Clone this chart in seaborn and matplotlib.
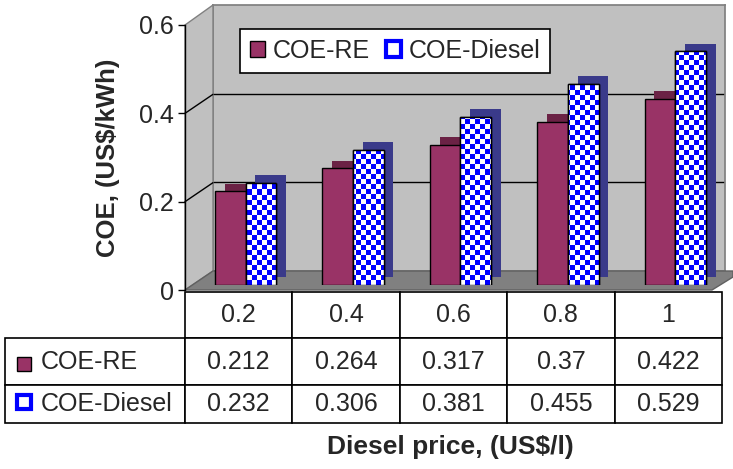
import numpy as np
import pandas as pd
import matplotlib
matplotlib.use("Agg")
import matplotlib.pyplot as plt
import matplotlib.patheffects as pe
import seaborn as sns
from matplotlib.colors import ListedColormap
from matplotlib.patches import Patch, Rectangle, Polygon
from matplotlib.lines import Line2D
from matplotlib.table import Table

prices = ["0.2", "0.4", "0.6", "0.8", "1"]
series = ["COE-RE", "COE-Diesel"]
coe_re = [0.212, 0.264, 0.317, 0.37, 0.422]
coe_diesel = [0.232, 0.306, 0.381, 0.455, 0.529]
yticks = [0, 0.2, 0.4, 0.6]

re_col = "#993366"
blue = "#0000ff"

W, H = 733, 469


def fx(x):
    return x / W


def fy(y):
    return 1 - y / H


def rect(x0, y0, x1, y1):
    # pixel box (top-left origin) -> figure fraction [l, b, w, h]
    return [fx(x0), fy(y1), fx(x1) - fx(x0), fy(y0) - fy(y1)]


sns.set_theme(style="white")
plt.rcParams["font.family"] = ["Liberation Sans", "DejaVu Sans"]

fig = plt.figure(figsize=(W / 100, H / 100), dpi=100)

# ---- fake 3d box: back wall, side wall, floor
wall = fig.add_axes(rect(213, 5, 725, 271))
wall.set_zorder(-2)
wall.set_facecolor("#c0c0c0")
wall.set_ylim(0, 0.6)
wall.set_xticks([])
wall.set_yticks(yticks[1:-1])
wall.tick_params(left=False, labelleft=False)
wall.grid(axis="y", color="black", lw=1)
for s in wall.spines.values():
    s.set_color("#808080")

side = Polygon([(fx(185), fy(290)), (fx(185), fy(25)), (fx(213), fy(5)), (fx(213), fy(271))],
               closed=True, transform=fig.transFigure, fc="#c0c0c0", ec="#808080", lw=1, zorder=-1)
fig.add_artist(side)
floor = Polygon([(fx(185), fy(290)), (fx(712), fy(290)), (fx(733), fy(277)), (fx(733), fy(271)), (fx(213), fy(271))],
                closed=True, transform=fig.transFigure, fc="#808080", ec="#606060", lw=1, zorder=-1)
fig.add_artist(floor)
for v in yticks[1:-1]:
    ty = 290 - v / 0.6 * 265
    fig.add_artist(Line2D([fx(185), fx(213)], [fy(ty), fy(ty - 19)], transform=fig.transFigure,
                          color="black", lw=1, zorder=-1))

# ---- value axis (front edge of the box)
ax = fig.add_axes(rect(185, 25, 722, 290))
ax.set_facecolor("none")
ax.set_xlim(-0.5, 4.5)
ax.set_ylim(0, 0.6)
ax.set_yticks(yticks)
ax.set_yticklabels(["0", "0.2", "0.4", "0.6"])
ax.set_xticks([])
ax.tick_params(axis="y", direction="out", length=5, width=1, color="black", pad=3, labelsize=18,
               left=True)
for k in ["top", "right", "bottom"]:
    ax.spines[k].set_visible(False)
ax.spines["left"].set_color("black")
ax.spines["left"].set_linewidth(1)

ax.set_xlabel("Diesel price, (US$/l)", fontsize=19, fontweight="bold")
ax.xaxis.set_label_coords((450 - 185) / 537, (290 - 447) / 265)
ax.xaxis.label.set_va("center")
ax.set_ylabel("COE, (US$/kWh)", fontsize=18.5, fontweight="bold")
ax.yaxis.set_label_coords((108 - 185) / 537, (290 - 158) / 265)
ax.yaxis.label.set_va("center")

# ---- bars, sitting a little inside the box
bx = fig.add_axes(rect(192, 20, 729, 285))
bx.set_facecolor("none")
bx.set_zorder(1)

df = pd.DataFrame({
    "price": prices * 2,
    "series": [series[0]] * len(prices) + [series[1]] * len(prices),
    "coe": coe_re + coe_diesel,
})
sns.barplot(data=df, x="price", y="coe", hue="series", hue_order=series, order=prices,
            palette={series[0]: re_col, series[1]: "white"}, width=0.57, gap=0,
            edgecolor="black", linewidth=1, saturation=1, legend=False, ax=bx)

shadows = ["#6b2245", "#3a3a8a"]
for cont, sh in zip(bx.containers, shadows):
    for bar in cont:
        bar.set_zorder(3)
        bar.set_path_effects([pe.SimplePatchShadow(offset=(7, 5.5), shadow_rgbFace=sh, alpha=1),
                              pe.Normal()])

# checkered fill for the diesel bars
nx, ny = 108, 53
checker = np.indices((ny, nx)).sum(axis=0) % 2
for bar in bx.containers[1]:
    im = bx.imshow(checker, cmap=ListedColormap(["white", blue]), extent=(-0.5, 4.5, 0, 0.6),
                   aspect="auto", interpolation="nearest", zorder=3.2)
    im.set_clip_path(bar)
    bx.add_patch(Rectangle(bar.get_xy(), bar.get_width(), bar.get_height(),
                           fill=False, ec="black", lw=1, zorder=3.4))
bx.set_xlim(-0.5, 4.5)
bx.set_ylim(0, 0.6)
bx.axis("off")

handles = [Patch(fc=re_col, ec="black", lw=1), Patch(fc="white", ec=blue, lw=3)]
leg = bx.legend(handles, series, ncol=2, loc="upper left",
                bbox_to_anchor=(fx(240), fy(29)), bbox_transform=fig.transFigure,
                borderaxespad=0, fontsize=18, frameon=True, fancybox=False, framealpha=1,
                edgecolor="black", handlelength=0.6, handleheight=0.6, handletextpad=0.3,
                columnspacing=0.65, borderpad=0.4)
leg.get_frame().set_linewidth(1.2)
leg.set_zorder(10)

# ---- data table under the chart (axes covers the five value columns)
tax = fig.add_axes(rect(185, 292, 722, 423))
tax.axis("off")
tab = Table(tax, bbox=[0, 0, 1, 1])
label_w = 180 / 537
col_w = 1 / len(prices)
row_h = [46 / 131, 47 / 131, 38 / 131]
for j, p in enumerate(prices):
    tab.add_cell(0, j, width=col_w, height=row_h[0], text=p, loc="center")
for i, (name, vals) in enumerate(zip(series, [coe_re, coe_diesel]), start=1):
    c = tab.add_cell(i, -1, width=label_w, height=row_h[i], text=name, loc="left")
    c.PAD = 0.2
    for j, v in enumerate(vals):
        tab.add_cell(i, j, width=col_w, height=row_h[i], text=f"{v:g}", loc="center")
tab.auto_set_font_size(False)
for cell in tab.get_celld().values():
    cell.set_edgecolor("black")
    cell.set_linewidth(1.2)
    cell.set_facecolor("white")
    cell.get_text().set_fontsize(18)
tax.add_table(tab)

# legend keys in the row labels
fig.add_artist(Rectangle((fx(17), fy(371)), fx(14), 14 / H, transform=fig.transFigure,
                         fc=re_col, ec="black", lw=1, zorder=5))
fig.add_artist(Rectangle((fx(17), fy(409)), fx(14), 14 / H, transform=fig.transFigure,
                         fc="white", ec=blue, lw=3, zorder=5))

fig.savefig("out.png", dpi=100)
